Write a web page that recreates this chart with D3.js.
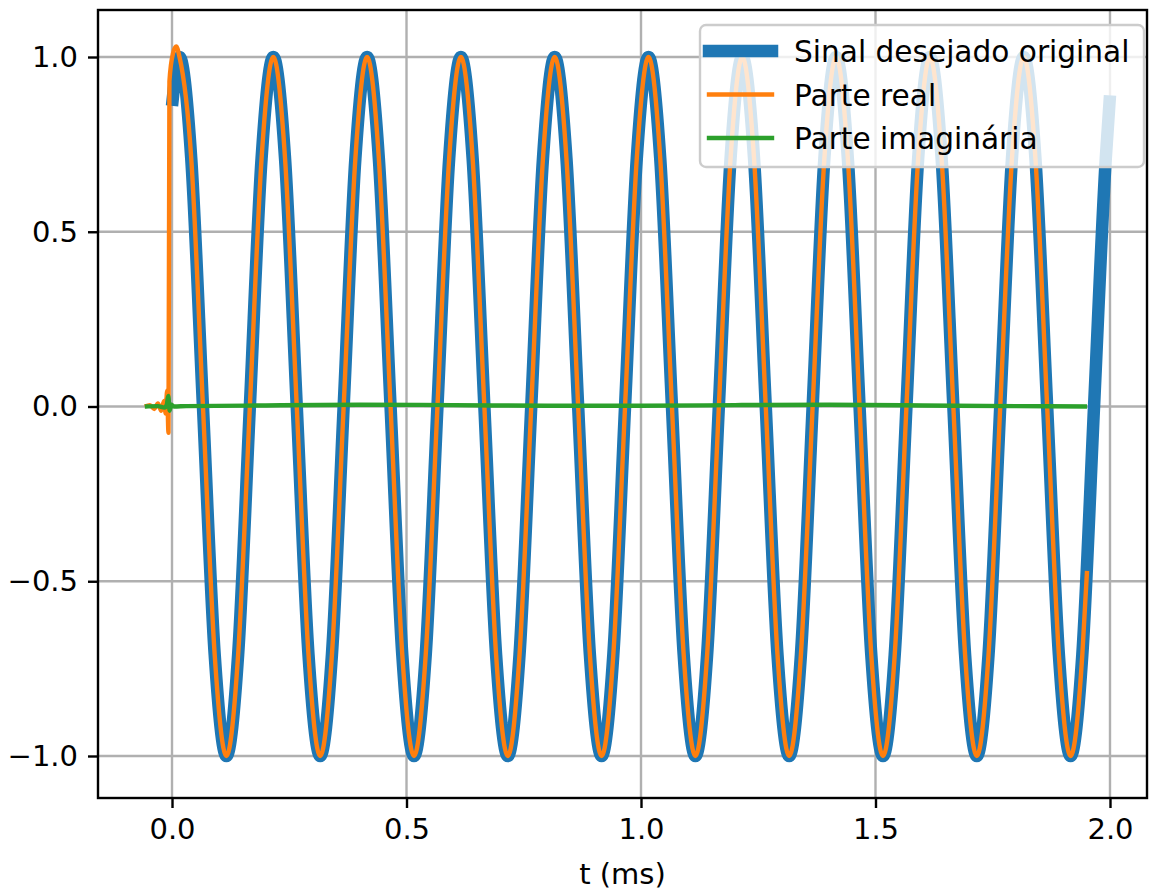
<!DOCTYPE html>
<html>
<head>
<meta charset="utf-8">
<script src="https://cdn.jsdelivr.net/npm/d3@7"></script>
<style>
  body { margin: 0; background: #fff; }
  text { font-family: "DejaVu Sans", sans-serif; fill: #000; }
</style>
</head>
<body>
<div id="chart"></div>
<script>
// tone samples, one every eighth of a period (t in ms)
var sineT = [
  0.016, 0.041, 0.066, 0.091, 0.116, 0.141, 0.166, 0.191,
  0.216, 0.241, 0.266, 0.291, 0.316, 0.341, 0.366, 0.391,
  0.416, 0.441, 0.466, 0.491, 0.516, 0.541, 0.566, 0.591,
  0.616, 0.641, 0.666, 0.691, 0.716, 0.741, 0.766, 0.791,
  0.816, 0.841, 0.866, 0.891, 0.916, 0.941, 0.966, 0.991,
  1.016, 1.041, 1.066, 1.091, 1.116, 1.141, 1.166, 1.191,
  1.216, 1.241, 1.266, 1.291, 1.316, 1.341, 1.366, 1.391,
  1.416, 1.441, 1.466, 1.491, 1.516, 1.541, 1.566, 1.591,
  1.616, 1.641, 1.666, 1.691, 1.716, 1.741, 1.766, 1.791,
  1.816, 1.841, 1.866, 1.891, 1.916, 1.941, 1.966, 1.991
];
var sineV = [
  1, 0.71, 0, -0.71, -1, -0.71, 0, 0.71,
  1, 0.71, 0, -0.71, -1, -0.71, 0, 0.71,
  1, 0.71, 0, -0.71, -1, -0.71, 0, 0.71,
  1, 0.71, 0, -0.71, -1, -0.71, 0, 0.71,
  1, 0.71, 0, -0.71, -1, -0.71, 0, 0.71,
  1, 0.71, 0, -0.71, -1, -0.71, 0, 0.71,
  1, 0.71, 0, -0.71, -1, -0.71, 0, 0.71,
  1, 0.71, 0, -0.71, -1, -0.71, 0, 0.71,
  1, 0.71, 0, -0.71, -1, -0.71, 0, 0.71,
  1, 0.71, 0, -0.71, -1, -0.71, 0, 0.71
];

// original signal: first and last sample
var origStart = [0.0, 0.86];
var origEnd = [2.0, 0.89];

// real part: transient around t = 0, then the tone, cut at ~1.95 ms
var realHeadT = [-0.058, -0.047, -0.038, -0.030, -0.023, -0.017, -0.0135, -0.0105, -0.0075, -0.0055, 0.002, 0.009];
var realHeadV = [0, 0.004, -0.007, 0.009, -0.012, 0.016, -0.02, 0.045, -0.075, 0.93, 1.01, 1.03];
var realEnd = [1.951, -0.47];

// imaginary part, close to zero
var imagT = [-0.058, -0.03, -0.016, -0.011, -0.008, -0.005, -0.002, 0.004, 0.03, 0.2, 0.4, 0.6, 0.8, 1.0, 1.2, 1.4, 1.6, 1.8, 1.951];
var imagV = [0, 0.001, -0.003, 0.006, 0.03, -0.012, 0.006, 0, 0.001, 0.003, 0.005, 0.004, 0.002, 0.002, 0.004, 0.005, 0.003, 0.001, 0];

var xTicks = [0, 0.5, 1.0, 1.5, 2.0];
var yTicks = [-1.0, -0.5, 0, 0.5, 1.0];
var legendLabels = ["Sinal desejado original", "Parte real", "Parte imaginária"];

var W = 1161, H = 893;
var L = 98, R = 1147, T = 10, B = 798;

var svg = d3.select("#chart").append("svg")
    .attr("width", W)
    .attr("height", H);

var x = d3.scaleLinear().domain([-0.1578, 2.0789]).range([L, R]);
var y = d3.scaleLinear().domain([-1.1202, 1.1345]).range([B, T]);

// build point lists
var orig = [origStart].concat(sineT.map(function(t, i) { return [t, sineV[i]]; }), [origEnd]);
var real = realHeadT.map(function(t, i) { return [t, realHeadV[i]]; })
  .concat(sineT.filter(function(t) { return t < 1.95; }).map(function(t, i) { return [t, sineV[i]]; }), [realEnd]);
var imag = imagT.map(function(t, i) { return [t, imagV[i]]; });

// grid
var grid = svg.append("g").attr("stroke", "#b0b0b0").attr("stroke-width", 2.4);
grid.selectAll(".gx").data(xTicks).enter().append("line")
    .attr("x1", function(d) { return x(d); }).attr("x2", function(d) { return x(d); })
    .attr("y1", T).attr("y2", B);
grid.selectAll(".gy").data(yTicks).enter().append("line")
    .attr("x1", L).attr("x2", R)
    .attr("y1", function(d) { return y(d); }).attr("y2", function(d) { return y(d); });

svg.append("clipPath").attr("id", "clip")
  .append("rect").attr("x", L).attr("y", T).attr("width", R - L).attr("height", B - T);

var line = d3.line()
    .x(function(d) { return x(d[0]); })
    .y(function(d) { return y(d[1]); })
    .curve(d3.curveMonotoneX);

var plot = svg.append("g").attr("clip-path", "url(#clip)");
plot.append("path").datum(orig)
    .attr("d", line).attr("fill", "none")
    .attr("stroke", "#1f77b4").attr("stroke-width", 12.5).attr("stroke-linejoin", "round");
plot.append("path").datum(real)
    .attr("d", line).attr("fill", "none")
    .attr("stroke", "#ff7f0e").attr("stroke-width", 4.4).attr("stroke-linejoin", "round");
plot.append("path").datum(imag)
    .attr("d", line).attr("fill", "none")
    .attr("stroke", "#2ca02c").attr("stroke-width", 4.4).attr("stroke-linejoin", "round");

// axes
var xAxis = svg.append("g")
    .attr("transform", "translate(0," + B + ")")
    .call(d3.axisBottom(x).tickValues(xTicks).tickFormat(d3.format(".1f")).tickSize(10).tickPadding(10));
var yAxis = svg.append("g")
    .attr("transform", "translate(" + L + ",0)")
    .call(d3.axisLeft(y).tickValues(yTicks).tickFormat(function(d) { return d3.format(".1f")(d).replace("-", "\u2212"); }).tickSize(10).tickPadding(10));
[xAxis, yAxis].forEach(function(a) {
  a.select(".domain").remove();
  a.selectAll("line").attr("stroke", "#000").attr("stroke-width", 2.4);
  a.selectAll("text").style("font-size", "29px").attr("fill", "#000");
});

svg.append("rect")
    .attr("x", L).attr("y", T).attr("width", R - L).attr("height", B - T)
    .attr("fill", "none").attr("stroke", "#000").attr("stroke-width", 2.4);

svg.append("text")
    .attr("x", (L + R) / 2).attr("y", 884)
    .attr("text-anchor", "middle")
    .style("font-size", "29px")
    .text("t (ms)");

// legend
var leg = svg.append("g");
leg.append("rect")
    .attr("x", 700).attr("y", 25).attr("width", 444).attr("height", 142)
    .attr("rx", 6).attr("ry", 6)
    .attr("fill", "#fff").attr("fill-opacity", 0.8)
    .attr("stroke", "#cccccc").attr("stroke-width", 2.4);

var legColors = ["#1f77b4", "#ff7f0e", "#2ca02c"];
var legWidths = [12.5, 4.4, 4.4];
var legY = d3.scaleLinear().domain([0, 2]).range([51, 138]);

legendLabels.forEach(function(lab, i) {
  leg.append("line")
      .attr("x1", 709).attr("x2", 772)
      .attr("y1", legY(i)).attr("y2", legY(i))
      .attr("stroke", legColors[i]).attr("stroke-width", legWidths[i])
      .attr("stroke-linecap", "square");
  leg.append("text")
      .attr("x", 794).attr("y", legY(i))
      .attr("dy", "0.38em")
      .style("font-size", "29.6px")
      .text(lab);
});
</script>
</body>
</html>
